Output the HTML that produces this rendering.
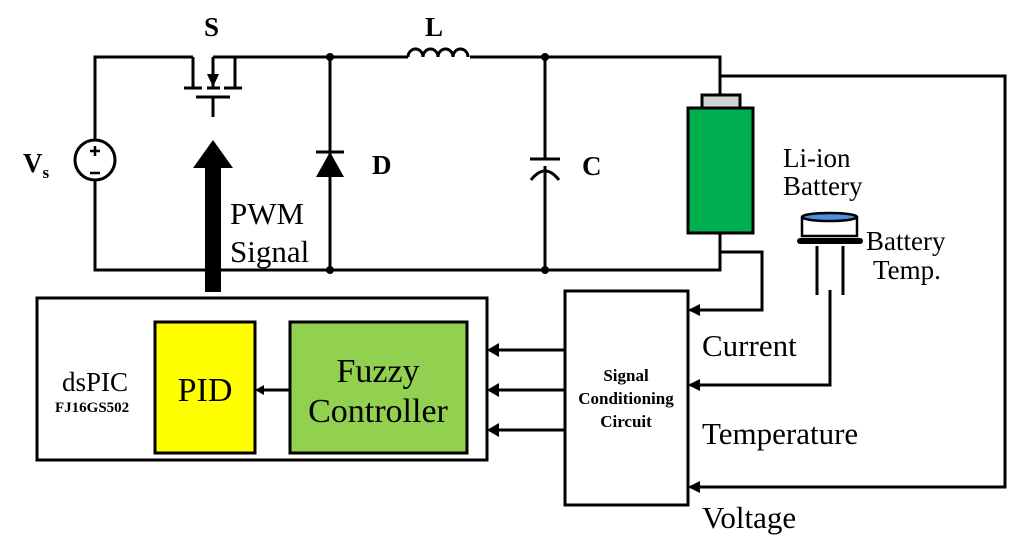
<!DOCTYPE html>
<html><head><style>body{margin:0;background:#fff}svg{display:block}</style></head><body>
<svg width="1024" height="542" xmlns="http://www.w3.org/2000/svg" font-family="Liberation Serif, serif">
<g stroke="#000" stroke-width="3" fill="none">
<path d="M193,57 H95 V140 M95,180 V270 H720 V233"/>
<path d="M213,57 V88 M213,57 H235 V87 M193,57 V87"/>
<path d="M213,57 H408 M470,57 H720 V95"/>
<path d="M184,88 H202 M207,88 H220 M224,88 H242"/>
<path d="M196,97 H230 M213,97 V117"/>
<path d="M408,57 a7.5,8 0 0 1 15,0 a7.5,8 0 0 1 15,0 a7.5,8 0 0 1 15,0 a7.5,8 0 0 1 15,0"/>
<path d="M330,57 V270"/>
<path d="M545,57 V159 M530,159 H560 M531,180 Q545,162 559,180 M545,166 V270"/>
<path d="M720,76 H1005 V487 H690"/>
<path d="M720,233 V252 H762 V310 H690"/>
<path d="M830,290 V385 H690"/>
<path d="M817,246 V295 M843,246 V295"/>
<path d="M565,350 H490 M565,390 H490 M565,430 H490"/>
<path d="M290,390 H258"/>
</g>
<path d="M213,87 l-6,-13 h12z" fill="#000"/>
<circle cx="330" cy="57" r="4"/><circle cx="330" cy="270" r="4"/><circle cx="545" cy="57" r="4"/><circle cx="545" cy="270" r="4"/>
<path d="M316,177 L330,152 L344,177z" fill="#000"/><path d="M316,152 H344" stroke="#000" stroke-width="3"/>
<circle cx="95" cy="160" r="20" fill="#fff" stroke="#000" stroke-width="3"/>
<path d="M95,146 v10 M90,151 h10 M90,173 h10" stroke="#000" stroke-width="2.5"/>
<path d="M205,292 V168 H193 L213,140 L233,168 H221 V292z" fill="#000"/>
<g fill="#000"><path d="M487,350 l12,-7 v14z M487,390 l12,-7 v14z M487,430 l12,-7 v14z"/>
<path d="M688,310 l12,-6 v12z M688,385 l12,-6 v12z M688,487 l12,-6 v12z M255,390 l9,-5 v10z"/></g>
<rect x="702" y="95" width="38" height="13" fill="#d3d3d3" stroke="#000" stroke-width="3"/>
<rect x="688" y="108" width="65" height="125" fill="#00b050" stroke="#000" stroke-width="3"/>
<path d="M802,217 V236 H857 V217" fill="#fff" stroke="#000" stroke-width="2.5"/>
<ellipse cx="829.5" cy="217" rx="27.5" ry="4" fill="#4f8fe0" stroke="#000" stroke-width="2.5"/>
<rect x="797" y="238" width="66" height="6" rx="3" fill="#000"/>
<rect x="37" y="298" width="450" height="162" fill="none" stroke="#000" stroke-width="3"/>
<rect x="155" y="322" width="100" height="131" fill="#ffff00" stroke="#000" stroke-width="3"/>
<rect x="290" y="322" width="177" height="131" fill="#92d050" stroke="#000" stroke-width="3"/>
<rect x="565" y="291" width="123" height="214" fill="#fff" stroke="#000" stroke-width="3"/>
<g font-weight="bold" font-size="27"><text x="204" y="36">S</text><text x="425" y="36">L</text><text x="372" y="174">D</text><text x="582" y="175">C</text><text x="23" y="172">V<tspan font-size="17" dy="6">s</tspan></text></g>
<g font-size="31"><text x="230" y="224">PWM</text><text x="230" y="262">Signal</text>
<text x="702" y="356">Current</text><text x="702" y="444">Temperature</text><text x="702" y="528">Voltage</text></g>
<g font-size="27"><text x="783" y="167">Li-ion</text><text x="783" y="195">Battery</text><text x="866" y="250">Battery</text><text x="873" y="279">Temp.</text>
<text x="62" y="391">dsPIC</text></g>
<text x="55" y="412" font-size="15" font-weight="bold">FJ16GS502</text>
<text x="205" y="401" font-size="34" text-anchor="middle">PID</text>
<text x="378" y="382" font-size="34" text-anchor="middle">Fuzzy</text>
<text x="378" y="422" font-size="34" text-anchor="middle">Controller</text>
<g font-size="17" font-weight="bold" text-anchor="middle"><text x="626" y="381">Signal</text><text x="626" y="404">Conditioning</text><text x="626" y="427">Circuit</text></g>
</svg>
</body></html>
